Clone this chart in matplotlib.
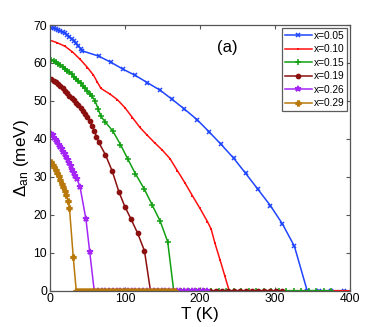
import matplotlib
matplotlib.use("Agg")
import matplotlib.pyplot as plt

plt.rcParams['font.family'] = ['Liberation Sans', 'DejaVu Sans']
plt.rcParams['mathtext.fontset'] = 'custom'
plt.rcParams['mathtext.rm'] = 'Liberation Sans'
plt.rcParams['mathtext.it'] = 'Liberation Sans:italic'

# ---- data ----
T_005 = [2, 5, 8, 11, 14, 17, 20, 23, 26, 29, 32, 35, 38, 41, 43,
         65, 81, 98, 114, 130, 147, 163, 179, 196, 212, 228, 245, 261, 277,
         294, 310, 326, 343, 359, 375, 392]
D_005 = [69.2, 69.1, 68.9, 68.7, 68.4, 68.1, 67.8, 67.4, 66.9, 66.4, 65.8, 65.2, 64.5, 63.8, 63.2,
         61.8, 60.2, 58.3, 56.7, 54.8, 52.8, 50.4, 47.9, 45.1, 41.9, 38.6, 34.9, 30.9, 26.8,
         22.4, 17.6, 11.7, 0, 0, 0, 0]

T_010 = [0, 10, 20, 30, 40, 50, 58, 63, 68, 80, 90, 100, 110, 120, 130, 140, 150, 160,
         170, 180, 190, 200, 210, 215, 220, 227, 233, 239, 260, 280, 300, 320, 340, 360, 380, 400]
D_010 = [66.0, 65.3, 64.4, 62.9, 61.0, 58.8, 56.8, 55.0, 53.3, 51.8, 50.3, 48.2, 45.6, 43.0,
         40.9, 38.9, 37.0, 34.8, 31.6, 28.4, 25.0, 21.7, 18.2, 16.2, 12.5, 8.0, 4.0, 0,
         0, 0, 0, 0, 0, 0, 0, 0]

T_015 = [2, 5, 8, 11, 14, 17, 20, 23, 26, 29, 32, 35, 38, 41, 44, 47, 50, 53, 56, 60, 64, 68,
         74, 84, 94, 104, 114, 126, 136, 147, 157, 165,
         175, 185, 195, 205, 215, 225, 235, 245, 255, 265,
         275, 285, 295, 305, 315, 325, 335, 345, 355, 365,
         375]
D_015 = [60.9, 60.6, 60.2, 59.8, 59.4, 59.0, 58.5, 58.0, 57.5, 57.0, 56.4, 55.8, 55.2, 54.6,
         54.0, 53.3, 52.6, 51.9, 51.2, 50.1, 48.0, 45.9,
         44.4, 42.0, 38.5, 34.6, 30.8, 26.7, 22.7, 18.3, 12.9, 0,
         0, 0, 0, 0, 0, 0, 0, 0, 0, 0,
         0, 0, 0, 0, 0, 0, 0, 0, 0, 0,
         0]

T_019 = [2, 5, 8, 11, 14, 17, 20, 23, 26, 29, 32, 35, 38, 41, 44, 47, 50, 53, 56, 59, 62, 65,
         74, 83, 92, 100, 108, 117, 126, 134,
         142, 150, 158, 166, 174, 182, 190, 198, 206, 214,
         222, 230, 238, 246, 254, 262, 270, 278, 286, 294,
         302, 310]
D_019 = [55.7, 55.3, 54.9, 54.4, 53.9, 53.3, 52.7, 52.0, 51.4, 50.8, 50.2, 49.5, 48.8, 48.1,
         47.3, 46.5, 45.7, 44.6, 43.4, 42.2, 40.6, 39.1,
         35.8, 31.5, 26.0, 22.1, 18.9, 15.1, 10.5, 0,
         0, 0, 0, 0, 0, 0, 0, 0, 0, 0,
         0, 0, 0, 0, 0, 0, 0, 0, 0, 0,
         0, 0]

T_026 = [2, 4, 6, 8, 10, 12, 14, 16, 18, 20, 22, 24, 26, 28, 30, 32, 34, 36, 40, 48, 53, 59,
         64, 69, 74, 79, 84, 89, 94, 99, 104, 109,
         114, 119, 124, 129, 134, 139, 144, 149, 154, 159,
         164, 169, 174, 179, 184, 189, 194, 199, 204, 209]
D_026 = [41.4, 40.9, 40.3, 39.7, 39.1, 38.5, 37.9, 37.3, 36.6, 35.9, 35.1, 34.4, 33.6, 32.8,
         31.9, 31.0, 30.2, 29.4, 27.4, 18.8, 10.2, 0,
         0, 0, 0, 0, 0, 0, 0, 0, 0, 0,
         0, 0, 0, 0, 0, 0, 0, 0, 0, 0,
         0, 0, 0, 0, 0, 0, 0, 0, 0, 0]

T_029 = [2, 4, 6, 8, 10, 12, 14, 16, 18, 20, 22, 24, 26, 31, 35,
         39, 43, 47, 51, 55, 59, 63, 67, 71, 75,
         79, 83, 87, 91, 95, 99, 103, 107, 111, 115,
         119, 123, 127, 131, 135, 139, 143, 147, 151, 155,
         159, 163, 167]
D_029 = [33.9, 33.2, 32.5, 31.8, 31.1, 30.2, 29.1, 28.1, 27.2, 26.3, 25.3, 23.6, 21.7, 8.9, 0,
         0, 0, 0, 0, 0, 0, 0, 0, 0, 0,
         0, 0, 0, 0, 0, 0, 0, 0, 0, 0,
         0, 0, 0, 0, 0, 0, 0, 0, 0, 0,
         0, 0, 0]

labels = ['x=0.05', 'x=0.10', 'x=0.15', 'x=0.19', 'x=0.26', 'x=0.29']
colors = ['#1f45ff', '#ff1010', '#12a012', '#8b0f0f', '#a425f5', '#b8780a']
markers = ['x', '+', '+', 'o', '*', 'P']
msizes = [2.8, 1.2, 4, 3, 4, 3.5]

series = [(T_005, D_005), (T_010, D_010), (T_015, D_015),
          (T_019, D_019), (T_026, D_026), (T_029, D_029)]

fig = plt.figure(figsize=(3.86, 3.27), dpi=100)
ax = fig.add_axes([0.1295, 0.111, 0.777, 0.8125])

for (T, D), lab, c, m, ms in zip(series, labels, colors, markers, msizes):
    ax.plot(T, D, color=c, marker=m, markersize=ms, linewidth=1.1, label=lab,
            markeredgewidth=1.1)

ax.set_xlim(0, 400)
ax.set_ylim(0, 70)
ax.set_xticks([0, 100, 200, 300, 400])
ax.set_yticks([0, 10, 20, 30, 40, 50, 60, 70])
ax.tick_params(direction='in', top=True, right=True, labelsize=8.7, length=3,
               color='#555555', pad=2)
for s in ax.spines.values():
    s.set_color('#555555')
    s.set_linewidth(0.9)

ax.set_xlabel('T (K)', fontsize=12.3, labelpad=1)
ax.set_ylabel(r'$\Delta_{\rm an}$ (meV)', fontsize=12.3, labelpad=2)

ax.text(237, 64.1, '(a)', fontsize=12, ha='center', va='center')

leg = ax.legend(loc='upper right', fontsize=7.3, frameon=True, fancybox=False,
                borderaxespad=0.25, labelspacing=0.35, handlelength=2.6,
                handletextpad=0.2, borderpad=0.3)
leg.get_frame().set_edgecolor('#333333')
leg.get_frame().set_linewidth(0.9)

fig.savefig('out.png', dpi=100)
